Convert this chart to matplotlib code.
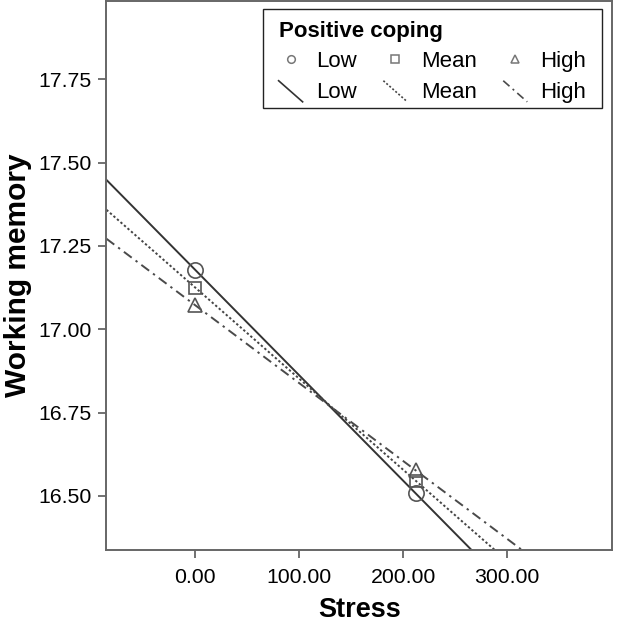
import numpy as np
from matplotlib import pyplot as plt
from matplotlib.lines import Line2D
from matplotlib.patches import Rectangle
from matplotlib.legend_handler import HandlerLine2D

plt.rcParams['font.family'] = ['Liberation Sans', 'DejaVu Sans']

# simple slopes: working memory at low / high stress for each coping level
stress = [0.0, 212.0]
wm_low = [17.178, 16.508]
wm_mean = [17.125, 16.546]
wm_high = [17.072, 16.577]
groups = ['Low', 'Mean', 'High']

x_ticks = [0, 100, 200, 300]
y_ticks = [16.50, 16.75, 17.00, 17.25, 17.50, 17.75]
xlim = (-85.5, 401)
ylim = (16.338, 17.985)

markers = ['o', 's', '^']
marker_sizes = [11, 8.5, 10]
line_styles = ['-', (0, (1.2, 1.2)), (0, (5, 2.5, 1.2, 2.5))]
line_colors = ['#333333', '#444444', '#4a4a4a']
mark_color = '#555555'


class DiagonalHandler(HandlerLine2D):
    # legend line samples are drawn slanted, like the SPSS output
    def create_artists(self, legend, orig_handle, xdescent, ydescent,
                       width, height, fontsize, trans):
        xs = [-xdescent, -xdescent + width]
        ys = [height - ydescent + 1, -ydescent - 3]
        line = Line2D(xs, ys)
        self.update_prop(line, orig_handle, legend)
        line.set_marker('None')
        line.set_transform(trans)
        return [line]


fig = plt.figure(figsize=(6.18, 6.22), dpi=100)
ax = fig.add_axes([0.1723, 0.1158, 0.818, 0.8826])

xx = np.array(xlim)
handles = []
for i, ys in enumerate([wm_low, wm_mean, wm_high]):
    coef = np.polyfit(stress, ys, 1)
    ax.plot(xx, np.polyval(coef, xx), linestyle=line_styles[i],
            color=line_colors[i], lw=1.4)
    ax.plot(stress, ys, linestyle='none', marker=markers[i],
            markersize=marker_sizes[i], markerfacecolor='none',
            markeredgecolor=mark_color, markeredgewidth=1.2)
    m = Line2D([], [], linestyle='none', marker=markers[i], markersize=5.5,
               markerfacecolor='none', markeredgecolor='#777777',
               markeredgewidth=1.1)
    ln = Line2D([], [], linestyle=line_styles[i], color=line_colors[i], lw=1.2)
    handles += [(m, groups[i]), (ln, groups[i])]

# legend frame drawn separately so its size can follow the original
W, H = 618, 622
box = Rectangle((263 / W, 1 - 108 / H), 339 / W, 99 / H,
                transform=fig.transFigure, facecolor='white',
                edgecolor='#222222', lw=1.0, zorder=4.5, clip_on=False)
ax.add_patch(box)

hmap = {h: DiagonalHandler() for h, _ in handles[1::2]}
leg = ax.legend([h for h, _ in handles], [t for _, t in handles], ncol=3,
                title='Positive coping', alignment='left',
                title_fontproperties={'weight': 'bold', 'size': 16},
                fontsize=16, loc='upper right',
                bbox_to_anchor=(602 / W, 1 - 5 / H),
                bbox_transform=fig.transFigure, frameon=False,
                handlelength=1.08, handletextpad=0.6, columnspacing=1.2,
                labelspacing=0.43, borderpad=0.7, borderaxespad=0,
                handler_map=hmap)

ax.set_xlim(xlim)
ax.set_ylim(ylim)
ax.set_xticks(x_ticks)
ax.set_xticklabels(['%.2f' % v for v in x_ticks])
ax.set_yticks(y_ticks)
ax.set_yticklabels(['%.2f' % v for v in y_ticks])
ax.tick_params(direction='out', length=6, width=1.3, color='#666666',
               labelsize=15.3, pad=5)
ax.tick_params(axis='x', pad=7)
for s in ax.spines.values():
    s.set_color('#666666')
    s.set_linewidth(1.4)

ax.set_xlabel('Stress', fontsize=19.5, fontweight='bold', labelpad=7)
ax.set_ylabel('Working memory', fontsize=21.5, fontweight='bold', labelpad=4)

fig.savefig('out.png', dpi=100)
